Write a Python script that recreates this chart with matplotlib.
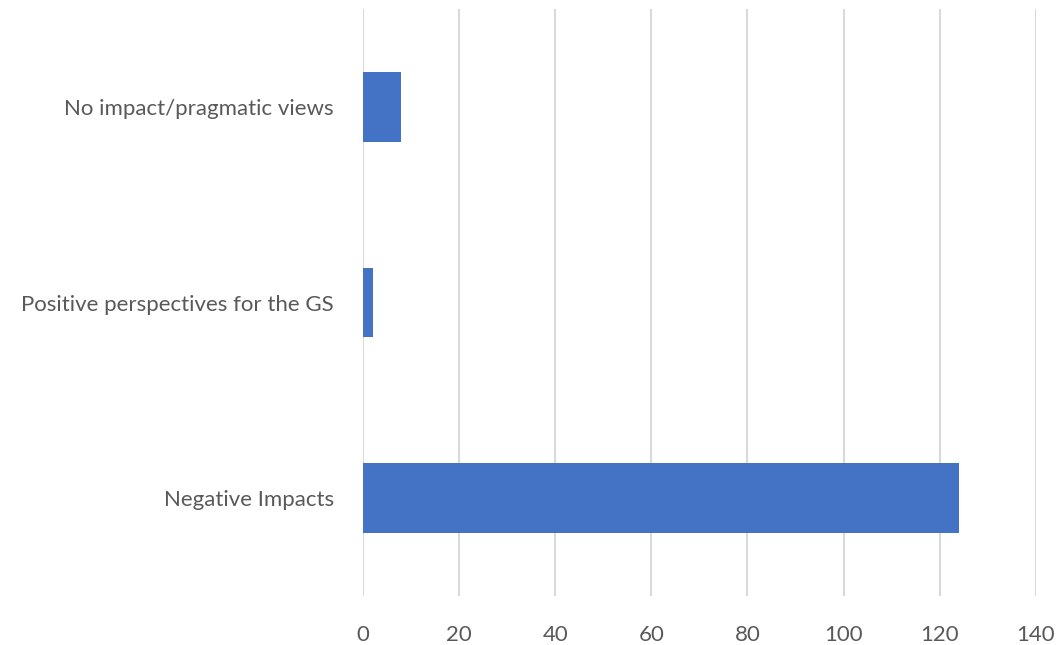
import matplotlib
matplotlib.use("Agg")
import matplotlib.pyplot as plt

# Response counts per theme (bottom to top)
categories = ["Negative Impacts", "Positive perspectives for the GS", "No impact/pragmatic views"]
counts = [124, 2, 8]
x_ticks = [0, 20, 40, 60, 80, 100, 120, 140]

BAR_COLOR = "#4472C4"
TEXT_COLOR = "#595959"
GRID_COLOR = "#D9D9D9"

plt.rcParams["font.family"] = ["Lato", "DejaVu Sans"]

fig = plt.figure(figsize=(10.56, 6.45), dpi=100)
ax = fig.add_axes([0.3438, 0.076, 0.637, 0.910])

ypos = list(range(len(categories)))
ax.barh(ypos, counts, height=0.355, color=BAR_COLOR, zorder=3)

ax.set_xlim(0, 140)
ax.set_ylim(-0.5, len(categories) - 0.5)
ax.set_xticks(x_ticks)
ax.set_xticklabels([str(t) for t in x_ticks])
ax.set_yticks(ypos)
ax.set_yticklabels(categories)

ax.xaxis.grid(True, color=GRID_COLOR, linewidth=1.5, zorder=0)
ax.yaxis.grid(False)
for s in ax.spines.values():
    s.set_visible(False)

ax.tick_params(axis="both", length=0, labelsize=16, labelcolor=TEXT_COLOR)
ax.tick_params(axis="x", pad=21)
ax.tick_params(axis="y", pad=21)

fig.savefig("out.png", dpi=100)
